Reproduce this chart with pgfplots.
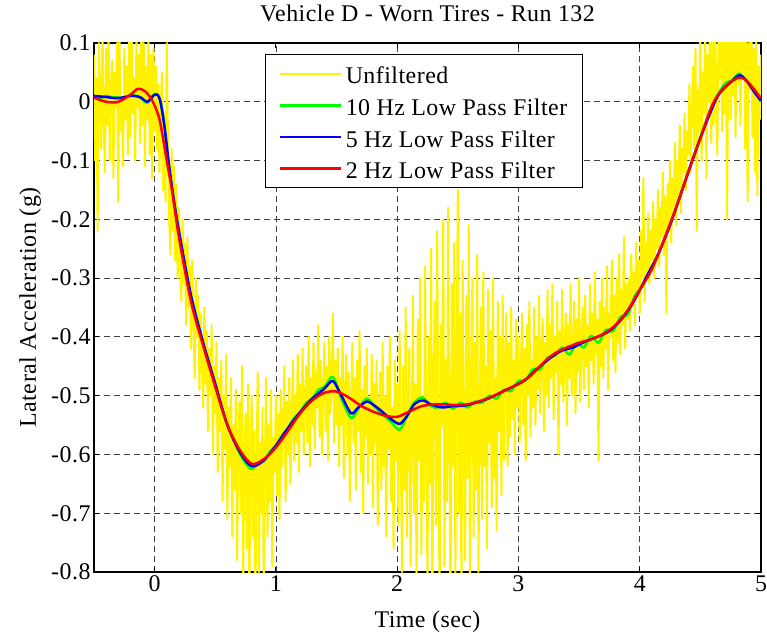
\documentclass[border=0pt]{standalone}
\usepackage{fontspec}
\setmainfont{Liberation Serif}[LetterSpace=2]
\usepackage{pgfplots}
\pgfplotsset{compat=1.18}
\newcommand{\lbl}{\fontsize{24}{29}\selectfont}
\begin{document}
\begin{tikzpicture}
\begin{axis}[
  scale only axis, width=667bp, height=529bp,
  xmin=-0.5, xmax=5, ymin=-0.8, ymax=0.1,
  xtick={0,1,2,3,4,5},
  ytick={-0.8,-0.7,-0.6,-0.5,-0.4,-0.3,-0.2,-0.1,0,0.1},
  /pgf/number format/assume math mode=true,
  font=\lbl,
  grid=major,
  major grid style={black!75, line width=0.8bp, dash pattern=on 6bp off 4bp},
  axis line style={line width=1.6bp},
  tick align=inside, major tick length=5bp,
  tick style={black, line width=0.9bp},
  title={Vehicle D - Worn Tires - Run 132},
  title style={at={(0.5,1.0302)}, anchor=base},
  xlabel={Time (sec)}, ylabel={Lateral Acceleration (g)},
  xlabel style={at={(0.5,-0.104)}, anchor=base},
  ylabel style={at={(-0.087,0.5)}, anchor=base},
  legend style={at={(0.256,0.979)}, anchor=north west, draw=black, line width=1bp,
    font=\lbl, row sep=1.7bp, column sep=2bp, inner xsep=13bp, inner ysep=4bp,
    nodes={text height=23bp, text depth=3bp, inner sep=2bp}},
  legend cell align=left,
  legend image code/.code={\draw[#1] (0bp,0bp) -- (61bp,0bp);},
  every axis plot/.append style={line join=round},
]
% unfiltered signal
\addplot[yellow, line width=2bp] coordinates {
(-0.50,0.08) (-0.49,-0.10) (-0.48,0.04) (-0.47,-0.22) (-0.46,0.10) (-0.45,0.02) (-0.44,-0.08)
(-0.43,0.13) (-0.42,-0.03) (-0.41,-0.12) (-0.40,0.09) (-0.39,-0.04) (-0.38,0.12) (-0.37,-0.10)
(-0.36,0.03) (-0.35,0.07) (-0.34,-0.13) (-0.33,0.05) (-0.32,-0.01) (-0.31,0.10) (-0.30,-0.17)
(-0.29,0.11) (-0.28,-0.05) (-0.27,0.00) (-0.26,-0.11) (-0.25,0.09) (-0.24,-0.03) (-0.23,0.06)
(-0.22,-0.09) (-0.21,0.12) (-0.20,-0.06) (-0.19,0.14) (-0.18,-0.02) (-0.17,0.04) (-0.16,-0.10)
(-0.15,0.11) (-0.14,-0.01) (-0.13,0.08) (-0.12,-0.07) (-0.11,0.13) (-0.10,-0.04) (-0.09,0.10)
(-0.08,-0.11) (-0.07,0.06) (-0.06,-0.03) (-0.05,0.12) (-0.04,-0.09) (-0.03,0.08) (-0.02,-0.13)
(-0.01,0.09) (0.00,-0.05)
(0.01,0.06) (0.02,-0.08) (0.03,0.03) (0.04,-0.12) (0.05,-0.01) (0.06,0.05) (0.07,-0.15)
(0.08,-0.02) (0.09,-0.17) (0.10,0.10) (0.11,-0.06) (0.12,-0.20) (0.13,-0.26) (0.14,-0.08)
(0.15,-0.22) (0.16,-0.11) (0.17,-0.27) (0.18,-0.14) (0.19,-0.30) (0.20,-0.18) (0.21,-0.25)
(0.22,-0.34) (0.23,-0.20) (0.24,-0.31) (0.25,-0.24) (0.26,-0.38) (0.27,-0.23) (0.28,-0.35)
(0.29,-0.28) (0.30,-0.42) (0.31,-0.27) (0.32,-0.36) (0.33,-0.47) (0.34,-0.30) (0.35,-0.40)
(0.36,-0.33) (0.37,-0.49) (0.38,-0.36) (0.39,-0.44) (0.40,-0.52)
(0.41,-0.35) (0.42,-0.48) (0.43,-0.39) (0.44,-0.56) (0.45,-0.42) (0.46,-0.50) (0.47,-0.38)
(0.48,-0.60) (0.49,-0.45) (0.50,-0.53) (0.51,-0.41) (0.52,-0.63) (0.53,-0.47) (0.54,-0.56)
(0.55,-0.44) (0.56,-0.68) (0.57,-0.50) (0.58,-0.59) (0.59,-0.43) (0.60,-0.71) (0.61,-0.52)
(0.62,-0.62) (0.63,-0.47) (0.64,-0.74) (0.65,-0.55) (0.66,-0.66) (0.67,-0.49) (0.68,-0.78)
(0.69,-0.58) (0.70,-0.51) (0.71,-0.70) (0.72,-0.45) (0.73,-0.82) (0.74,-0.60) (0.75,-0.53)
(0.76,-0.76) (0.77,-0.48) (0.78,-0.86) (0.79,-0.62) (0.80,-0.50) (0.81,-0.74) (0.82,-0.56)
(0.83,-0.88) (0.84,-0.63) (0.85,-0.46) (0.86,-0.80) (0.87,-0.58) (0.88,-0.70) (0.89,-0.52)
(0.90,-0.85) (0.91,-0.60) (0.92,-0.47) (0.93,-0.74) (0.94,-0.55) (0.95,-0.68) (0.96,-0.49)
(0.97,-0.79) (0.98,-0.57) (0.99,-0.63) (1.00,-0.50)
(1.01,-0.67) (1.02,-0.53) (1.03,-0.71) (1.04,-0.49) (1.05,-0.62) (1.06,-0.55) (1.07,-0.45)
(1.08,-0.68) (1.09,-0.51) (1.10,-0.60) (1.11,-0.47) (1.12,-0.65) (1.13,-0.54) (1.14,-0.44)
(1.15,-0.61) (1.16,-0.50) (1.17,-0.58) (1.18,-0.43) (1.19,-0.63) (1.20,-0.48) (1.21,-0.56)
(1.22,-0.42) (1.23,-0.60) (1.24,-0.51) (1.25,-0.45) (1.26,-0.58) (1.27,-0.40) (1.28,-0.62)
(1.29,-0.47) (1.30,-0.55) (1.31,-0.41) (1.32,-0.59) (1.33,-0.46) (1.34,-0.52) (1.35,-0.38)
(1.36,-0.57) (1.37,-0.44) (1.38,-0.60) (1.39,-0.49) (1.40,-0.41) (1.41,-0.56) (1.42,-0.45)
(1.43,-0.61) (1.44,-0.40) (1.45,-0.53) (1.46,-0.47) (1.47,-0.36) (1.48,-0.58) (1.49,-0.44)
(1.50,-0.55)
(1.51,-0.42) (1.52,-0.62) (1.53,-0.47) (1.54,-0.55) (1.55,-0.40) (1.56,-0.64) (1.57,-0.50)
(1.58,-0.43) (1.59,-0.60) (1.60,-0.46) (1.61,-0.68) (1.62,-0.52) (1.63,-0.41) (1.64,-0.58)
(1.65,-0.47) (1.66,-0.66) (1.67,-0.44) (1.68,-0.56) (1.69,-0.39) (1.70,-0.63) (1.71,-0.49)
(1.72,-0.70) (1.73,-0.45) (1.74,-0.57) (1.75,-0.42) (1.76,-0.65) (1.77,-0.51) (1.78,-0.60)
(1.79,-0.43) (1.80,-0.69) (1.81,-0.48) (1.82,-0.58) (1.83,-0.44) (1.84,-0.72) (1.85,-0.53)
(1.86,-0.46) (1.87,-0.66) (1.88,-0.41) (1.89,-0.62) (1.90,-0.50) (1.91,-0.74) (1.92,-0.45)
(1.93,-0.59) (1.94,-0.40) (1.95,-0.68) (1.96,-0.52) (1.97,-0.76) (1.98,-0.44) (1.99,-0.61)
(2.00,-0.48)
(2.01,-0.72) (2.02,-0.39) (2.03,-0.60) (2.04,-0.80) (2.05,-0.45) (2.06,-0.66) (2.07,-0.35)
(2.08,-0.74) (2.09,-0.52) (2.10,-0.42) (2.11,-0.79) (2.12,-0.56) (2.13,-0.33) (2.14,-0.70)
(2.15,-0.48) (2.16,-0.83) (2.17,-0.37) (2.18,-0.61) (2.19,-0.30) (2.20,-0.77) (2.21,-0.50)
(2.22,-0.68) (2.23,-0.28) (2.24,-0.58) (2.25,-0.82) (2.26,-0.40) (2.27,-0.65) (2.28,-0.25)
(2.29,-0.86) (2.30,-0.47) (2.31,-0.34) (2.32,-0.72) (2.33,-0.22) (2.34,-0.63) (2.35,-0.84)
(2.36,-0.38) (2.37,-0.55) (2.38,-0.20) (2.39,-0.79) (2.40,-0.44) (2.41,-0.68) (2.42,-0.18)
(2.43,-0.57) (2.44,-0.88) (2.45,-0.31) (2.46,-0.62) (2.47,-0.24) (2.48,-0.81) (2.49,-0.46)
(2.50,-0.15) (2.51,-0.70) (2.52,-0.36) (2.53,-0.85) (2.54,-0.27) (2.55,-0.59) (2.56,-0.78)
(2.57,-0.33) (2.58,-0.64) (2.59,-0.21) (2.60,-0.83) (2.61,-0.49) (2.62,-0.30) (2.63,-0.74)
(2.64,-0.41) (2.65,-0.66) (2.66,-0.26) (2.67,-0.80) (2.68,-0.53) (2.69,-0.35) (2.70,-0.71)
(2.71,-0.29) (2.72,-0.62) (2.73,-0.45) (2.74,-0.76) (2.75,-0.32) (2.76,-0.58) (2.77,-0.39)
(2.78,-0.69) (2.79,-0.30) (2.80,-0.64) (2.81,-0.47) (2.82,-0.73) (2.83,-0.34) (2.84,-0.56)
(2.85,-0.40) (2.86,-0.67) (2.87,-0.33) (2.88,-0.61) (2.89,-0.45) (2.90,-0.36)
(2.91,-0.62) (2.92,-0.41) (2.93,-0.57) (2.94,-0.35) (2.95,-0.54) (2.96,-0.44) (2.97,-0.60)
(2.98,-0.37) (2.99,-0.52) (3.00,-0.40) (3.01,-0.58) (3.02,-0.46) (3.03,-0.36) (3.04,-0.55)
(3.05,-0.42) (3.06,-0.61) (3.07,-0.38) (3.08,-0.50) (3.09,-0.34) (3.10,-0.57) (3.11,-0.44)
(3.12,-0.52) (3.13,-0.35) (3.14,-0.55) (3.15,-0.40) (3.16,-0.49) (3.17,-0.33) (3.18,-0.53)
(3.19,-0.43) (3.20,-0.37) (3.21,-0.56) (3.22,-0.41) (3.23,-0.50) (3.24,-0.32) (3.25,-0.52)
(3.26,-0.38) (3.27,-0.47) (3.28,-0.31) (3.29,-0.54) (3.30,-0.40) (3.31,-0.46) (3.32,-0.34)
(3.33,-0.60) (3.34,-0.39) (3.35,-0.48) (3.36,-0.32) (3.37,-0.51) (3.38,-0.42) (3.39,-0.36)
(3.40,-0.55) (3.41,-0.38) (3.42,-0.47) (3.43,-0.31) (3.44,-0.50) (3.45,-0.43) (3.46,-0.34)
(3.47,-0.53) (3.48,-0.37) (3.49,-0.46) (3.50,-0.30) (3.51,-0.51) (3.52,-0.41) (3.53,-0.35)
(3.54,-0.49) (3.55,-0.33) (3.56,-0.45) (3.57,-0.38) (3.58,-0.52) (3.59,-0.31) (3.60,-0.44)
(3.61,-0.36) (3.62,-0.48) (3.63,-0.29) (3.64,-0.43) (3.65,-0.37) (3.66,-0.61) (3.67,-0.34)
(3.68,-0.45) (3.69,-0.30) (3.70,-0.47) (3.71,-0.35) (3.72,-0.42) (3.73,-0.28) (3.74,-0.49)
(3.75,-0.36) (3.76,-0.40) (3.77,-0.27) (3.78,-0.44) (3.79,-0.33) (3.80,-0.46) (3.81,-0.30)
(3.82,-0.41) (3.83,-0.26) (3.84,-0.43) (3.85,-0.32) (3.86,-0.38) (3.87,-0.23) (3.88,-0.42)
(3.89,-0.31) (3.90,-0.37)
(3.91,-0.30) (3.92,-0.39) (3.93,-0.26) (3.94,-0.35) (3.95,-0.29) (3.96,-0.38) (3.97,-0.24)
(3.98,-0.33) (3.99,-0.27) (4.00,-0.36) (4.01,-0.22) (4.02,-0.30) (4.03,-0.13) (4.04,-0.34)
(4.05,-0.24) (4.06,-0.29) (4.07,-0.19) (4.08,-0.31) (4.09,-0.22) (4.10,-0.27) (4.11,-0.17)
(4.12,-0.30) (4.13,-0.20) (4.14,-0.25) (4.15,-0.15) (4.16,-0.28) (4.17,-0.18) (4.18,-0.23)
(4.19,-0.12) (4.20,-0.26) (4.21,-0.16) (4.22,-0.36) (4.23,-0.14) (4.24,-0.22) (4.25,-0.10)
(4.26,-0.24) (4.27,-0.13) (4.28,-0.18) (4.29,-0.07) (4.30,-0.21) (4.31,-0.10) (4.32,-0.16)
(4.33,-0.04) (4.34,-0.19) (4.35,-0.08) (4.36,-0.12) (4.37,-0.02) (4.38,-0.15) (4.39,-0.05)
(4.40,-0.09)
(4.41,0.03) (4.42,-0.12) (4.43,-0.01) (4.44,0.06) (4.45,-0.08) (4.46,0.09) (4.47,-0.22)
(4.48,0.02) (4.49,-0.05) (4.50,0.12) (4.51,-0.10) (4.52,0.05) (4.53,-0.02) (4.54,0.14)
(4.55,-0.13) (4.56,0.08) (4.57,0.00) (4.58,0.15) (4.59,-0.07) (4.60,0.11) (4.61,-0.04)
(4.62,0.16) (4.63,0.02) (4.64,-0.09) (4.65,0.13) (4.66,0.04) (4.67,0.17) (4.68,-0.05)
(4.69,0.12) (4.70,-0.02) (4.71,0.15) (4.72,-0.20) (4.73,0.09) (4.74,0.16) (4.75,-0.03)
(4.76,0.13) (4.77,0.01) (4.78,0.17) (4.79,-0.06) (4.80,0.14) (4.81,0.03) (4.82,0.16)
(4.83,-0.04) (4.84,0.12) (4.85,0.05) (4.86,0.15) (4.87,-0.08) (4.88,0.11) (4.89,-0.17)
(4.90,0.10) (4.91,0.02) (4.92,0.14) (4.93,-0.06) (4.94,0.09) (4.95,-0.12) (4.96,0.12)
(4.97,-0.16) (4.98,0.06) (4.99,-0.03) (5.00,0.08)
};
\addlegendentry{Unfiltered}
% 10 Hz
\addplot[green, line width=2.5bp, smooth, tension=0.5] coordinates {
(-0.5,0.01) (-0.45,0.006) (-0.4,0.01) (-0.35,0.007) (-0.3,0.008) (-0.25,0.006)
(-0.2,0.012) (-0.15,0.01) (-0.1,0.004) (-0.06,-0.002) (-0.02,0.01) (0.02,0.013)
(0.06,-0.01) (0.1,-0.08) (0.14,-0.14) (0.2,-0.22) (0.25,-0.28) (0.3,-0.33)
(0.35,-0.37) (0.4,-0.41) (0.45,-0.445) (0.5,-0.48) (0.55,-0.52) (0.6,-0.55)
(0.65,-0.575) (0.7,-0.598) (0.75,-0.615) (0.8,-0.625) (0.85,-0.615) (0.9,-0.612)
(0.95,-0.595) (1.0,-0.585) (1.05,-0.568) (1.1,-0.555) (1.15,-0.538) (1.2,-0.528)
(1.25,-0.512) (1.3,-0.505) (1.35,-0.49) (1.4,-0.485) (1.47,-0.468) (1.54,-0.505)
(1.62,-0.538) (1.68,-0.522) (1.75,-0.505) (1.82,-0.52) (1.88,-0.532) (1.95,-0.545)
(2.02,-0.558) (2.08,-0.535) (2.14,-0.512) (2.21,-0.503) (2.28,-0.518) (2.34,-0.52)
(2.4,-0.512) (2.46,-0.522) (2.52,-0.512) (2.58,-0.52) (2.64,-0.51) (2.7,-0.512)
(2.76,-0.5) (2.82,-0.505) (2.88,-0.49) (2.94,-0.492) (3.0,-0.475) (3.06,-0.474)
(3.12,-0.455) (3.18,-0.455) (3.24,-0.435) (3.3,-0.432) (3.36,-0.418) (3.42,-0.43)
(3.48,-0.41) (3.54,-0.418) (3.6,-0.398) (3.66,-0.41) (3.72,-0.388) (3.78,-0.39)
(3.84,-0.366) (3.9,-0.362) (3.96,-0.33) (4.02,-0.315) (4.08,-0.29) (4.14,-0.265)
(4.2,-0.235) (4.3,-0.18) (4.4,-0.12) (4.5,-0.06) (4.6,-0.005) (4.7,0.03)
(4.76,0.036) (4.82,0.048) (4.88,0.035) (4.94,0.02) (5.0,0.0)
};
\addlegendentry{10 Hz Low Pass Filter}
% 5 Hz
\addplot[blue, line width=2.5bp, smooth, tension=0.5] coordinates {
(-0.5,0.01) (-0.4,0.008) (-0.3,0.006) (-0.2,0.01) (-0.12,0.008) (-0.06,0.0)
(0.0,0.012) (0.04,0.006) (0.08,-0.04) (0.12,-0.11) (0.16,-0.17) (0.2,-0.22)
(0.3,-0.33) (0.4,-0.41) (0.5,-0.48) (0.6,-0.55) (0.7,-0.595) (0.8,-0.62)
(0.9,-0.61) (1.0,-0.585) (1.1,-0.555) (1.2,-0.528) (1.3,-0.505) (1.4,-0.488)
(1.47,-0.475) (1.54,-0.50) (1.62,-0.53) (1.68,-0.52) (1.75,-0.51) (1.82,-0.518)
(1.88,-0.528) (1.95,-0.54) (2.02,-0.548) (2.08,-0.535) (2.14,-0.515) (2.21,-0.508)
(2.28,-0.515) (2.37,-0.52) (2.45,-0.518) (2.55,-0.517) (2.65,-0.512) (2.75,-0.505)
(2.85,-0.495) (2.95,-0.485) (3.05,-0.474) (3.15,-0.455) (3.25,-0.438) (3.35,-0.424)
(3.45,-0.418) (3.55,-0.408) (3.65,-0.40) (3.75,-0.39) (3.85,-0.37) (3.95,-0.34)
(4.05,-0.30) (4.15,-0.26) (4.25,-0.21) (4.35,-0.15) (4.45,-0.09) (4.55,-0.035)
(4.65,0.012) (4.75,0.033) (4.82,0.045) (4.88,0.036) (4.95,0.015) (5.0,0.002)
};
\addlegendentry{5 Hz Low Pass Filter}
% 2 Hz
\addplot[red, line width=2.5bp, smooth, tension=0.5] coordinates {
(-0.5,0.007) (-0.4,0.0) (-0.3,0.0) (-0.2,0.012) (-0.14,0.022) (-0.08,0.018)
(-0.02,0.002) (0.04,-0.03) (0.1,-0.10) (0.15,-0.16) (0.2,-0.23) (0.3,-0.34)
(0.4,-0.415) (0.5,-0.485) (0.6,-0.55) (0.7,-0.592) (0.8,-0.616) (0.9,-0.608)
(1.0,-0.588) (1.1,-0.56) (1.2,-0.53) (1.3,-0.508) (1.4,-0.495) (1.5,-0.493)
(1.6,-0.503) (1.7,-0.517) (1.8,-0.527) (1.9,-0.534) (2.0,-0.536) (2.1,-0.527)
(2.2,-0.518) (2.3,-0.515) (2.4,-0.515) (2.5,-0.516) (2.6,-0.514) (2.7,-0.508)
(2.8,-0.5) (2.9,-0.49) (3.0,-0.48) (3.1,-0.466) (3.2,-0.445) (3.3,-0.428)
(3.4,-0.418) (3.5,-0.41) (3.6,-0.404) (3.7,-0.395) (3.8,-0.38) (3.9,-0.355)
(4.0,-0.32) (4.1,-0.285) (4.2,-0.235) (4.3,-0.18) (4.4,-0.12) (4.5,-0.062)
(4.6,-0.005) (4.7,0.025) (4.8,0.04) (4.85,0.04) (4.9,0.032) (5.0,0.006)
};
\addlegendentry{2 Hz Low Pass Filter}
\end{axis}
\pgfresetboundingbox
\path ([shift={(-94bp,-62bp)}]current axis.south west) rectangle ([shift={(6bp,43bp)}]current axis.north east);
\end{tikzpicture}
\end{document}
